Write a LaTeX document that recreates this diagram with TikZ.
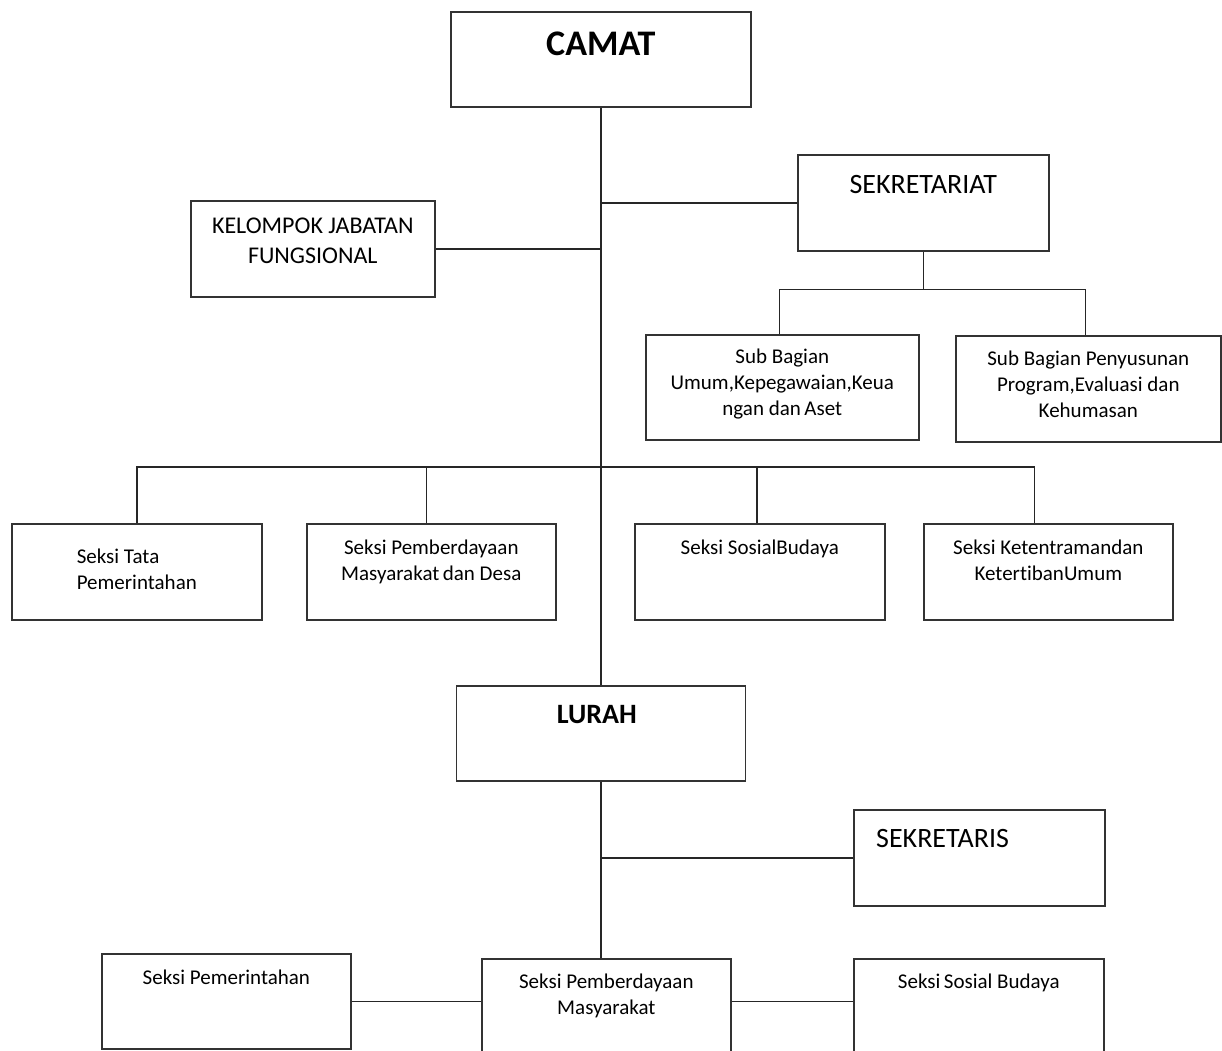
\documentclass[tikz,border=0pt]{standalone}
\usepackage{fontspec}
\setmainfont{Carlito}[Ligatures=NoCommon]
\usetikzlibrary{positioning}

\begin{document}
\begin{tikzpicture}[
		x=1pt,
		y=-1pt,
		unit/.style={
			draw=black!80,
			line width=1.6pt,
			inner sep=0pt,
			anchor=north west,
			minimum width=250pt,
			minimum height=96pt,
		},
		txt/.style={
			inner sep=0pt,
			align=center,
			font=\fontsize{21}{26}\selectfont,
		},
		link/.style={
			draw=black!85,
			line width=1.6pt,
		},
		]
		\useasboundingbox (0,0) rectangle (1222,1050);
		\clip (0,0) rectangle (1222,1050);
		% Draw the kecamatan boxes
		\node [unit,minimum width=300pt,minimum height=95pt] (camat) at (450,11) {};
		\node [unit,minimum width=251pt] (sekretariat) at (797,154) {};
		\node [unit,minimum width=244pt] (kjf) at (190,200) {};
		\node [unit,minimum width=273pt,minimum height=105pt] (sub1) at (645,334) {};
		\node [unit,minimum width=265pt,minimum height=106pt] (sub2) at (955,335) {};
		\node [unit] (tata) at (11,523) {};
		\node [unit,minimum width=249pt] (pmd) at (306,523) {};
		\node [unit] (sosbud) at (634,523) {};
		\node [unit,minimum width=249pt] (ketent) at (923,523) {};
		% Draw the kelurahan boxes
		\node [unit,minimum width=289pt,minimum height=95pt] (lurah) at (455.5,685) {};
		\node [unit,minimum width=251pt] (sekretaris) at (853,809) {};
		\node [unit,minimum width=249pt,minimum height=95pt] (pemerintahan) at (101,953) {};
		\node [unit,minimum width=249pt,minimum height=95pt] (pm) at (481,958) {};
		\node [unit,minimum height=95pt] (sosbud2) at (853,958) {};

		% Draw the texts
		\node [txt,font=\fontsize{36}{43}\selectfont\bfseries,below=21pt of camat.north] (camattxt) {CAMAT};
		\node [txt,font=\fontsize{28}{34}\selectfont,below=21pt of sekretariat.north] (sekretariattxt) {SEKRETARIAT};
		\node [txt,font=\fontsize{24}{30}\selectfont,below=18pt of kjf.north] (kjftxt) {KELOMPOK JABATAN\\FUNGSIONAL};
		\node [txt,below=15pt of sub1.north] (sub1txt) {Sub Bagian\\Umum,Kepegawaian,Keua\\ngan dan\,Aset};
		\node [txt,below=16pt of sub2.north] (sub2txt) {Sub Bagian Penyusunan\\Program,Evaluasi dan\\Kehumasan};
		\node [txt,align=left,below=26pt of tata.north] (tatatxt) {Seksi Tata\\Pemerintahan};
		\node [txt,below=17pt of pmd.north] (pmdtxt) {Seksi Pemberdayaan\\Masyarakat\,dan Desa};
		\node [txt,below=17pt of sosbud.north] (sosbudtxt) {Seksi SosialBudaya};
		\node [txt,below=17pt of ketent.north] (ketenttxt) {Seksi Ketentramandan\\KetertibanUmum};
		\node [txt,font=\fontsize{28}{34}\selectfont\bfseries,below=20pt of lurah.north,xshift=-4pt] (lurahtxt) {LURAH};
		\node [txt,font=\fontsize{28}{34}\selectfont,below right=20pt and 23pt of sekretaris.north west] (sekretaristxt) {SEKRETARIS};
		\node [txt,below=17pt of pemerintahan.north] (pemerintahantxt) {Seksi Pemerintahan};
		\node [txt,below=16pt of pm.north] (pmtxt) {Seksi Pemberdayaan\\Masyarakat};
		\node [txt,below=16pt of sosbud2.north] (sosbud2txt) {Seksi\,Sosial Budaya};

		% Draw the kecamatan lines
		\draw [link] (camat.south) -- (lurah.north);
		\draw [link] (sekretariat.west) -- (sekretariat.west -| camat.south);
		\draw [link] (kjf.east) -- (kjf.east -| camat.south);
		\draw [link] (sekretariat.south) -- ++(0,38) coordinate (subbus);
		\draw [link] ([xshift=-3pt]sub1.north) |- (subbus) -| ([xshift=-3pt]sub2.north);
		\coordinate (seksibus) at (camat.south |- 0,467);
		\draw [link] (tata.north) |- (seksibus) -| ([xshift=-14pt]ketent.north);
		\foreach \n/\dx in {pmd/-5,sosbud/-3} {
			\draw [link] ([xshift=\dx pt]\n.north) -- ([xshift=\dx pt]\n.north |- seksibus);
		}
		% Draw the kelurahan lines
		\draw [link] (lurah.south) -- (lurah.south |- pm.north);
		\draw [link] (sekretaris.west) -- (sekretaris.west -| lurah.south);
		\draw [link] (pemerintahan.east) -- (pemerintahan.east -| pm.west);
		\draw [link] (pm.east |- pemerintahan.east) -- (sosbud2.west |- pemerintahan.east);
	\end{tikzpicture}
\end{document}
